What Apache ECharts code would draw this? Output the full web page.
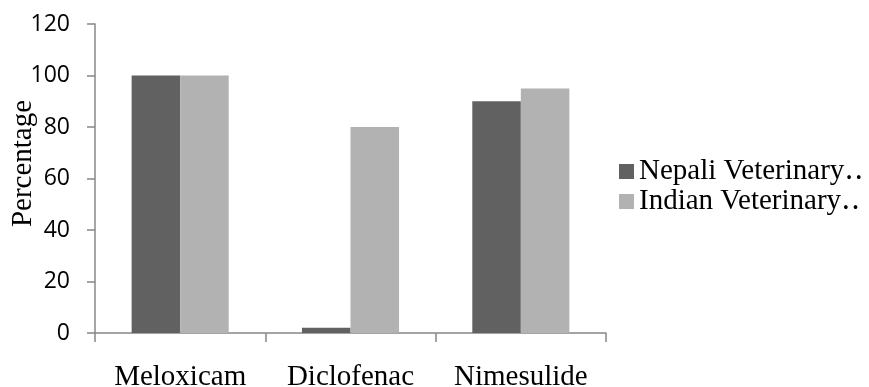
<!DOCTYPE html>
<html>
<head>
<meta charset="utf-8">
<script src="https://cdn.jsdelivr.net/npm/echarts@6/dist/echarts.min.js"></script>
<style>
html,body{margin:0;padding:0;background:#fff;}
#chart{width:869px;height:387px;}
</style>
</head>
<body>
<div id="chart"></div>
<script>
const categories = ['Meloxicam', 'Diclofenac', 'Nimesulide'];
const seriesNames = ['Nepali Veterinary\u2025', 'Indian Veterinary\u2025'];
const nepaliValues = [100, 2, 90];
const indianValues = [100, 80, 95];
const yTicks = { min: 0, max: 120, interval: 20 };

const chart = echarts.init(document.getElementById('chart'), null, { renderer: 'canvas' });
const axisColor = '#878787';
const serif = '"Liberation Serif", "DejaVu Serif", serif';
chart.setOption({
  animation: false,
  backgroundColor: '#ffffff',
  grid: { left: 95, right: 263, top: 24, bottom: 54, containLabel: false, outerBoundsMode: 'none' },
  legend: {
    orient: 'vertical',
    left: 619,
    top: 157,
    padding: 0,
    itemWidth: 15,
    itemHeight: 15,
    itemGap: 1,
    icon: 'rect',
    textStyle: { fontFamily: serif, fontSize: 29, color: '#000', lineHeight: 29 },
    data: seriesNames
  },
  xAxis: {
    type: 'category',
    data: categories,
    axisLine: { lineStyle: { color: axisColor, width: 1.5 } },
    axisTick: { show: true, alignWithLabel: false, length: 9, lineStyle: { color: axisColor, width: 1.5 } },
    axisLabel: { fontFamily: serif, fontSize: 29, color: '#000', margin: 30, interval: 0, hideOverlap: false },
    splitLine: { show: false }
  },
  yAxis: {
    type: 'value',
    min: yTicks.min,
    max: yTicks.max,
    interval: yTicks.interval,
    name: 'Percentage',
    nameLocation: 'middle',
    nameGap: 57,
    nameRotate: 90,
    nameMoveOverlap: false,
    nameTextStyle: { fontFamily: serif, fontSize: 29, color: '#000', padding: [0, 0, 0, 30] },
    axisLine: { show: true, lineStyle: { color: axisColor, width: 1.5 } },
    axisTick: { show: true, length: 8, lineStyle: { color: axisColor, width: 1.5 } },
    axisLabel: { fontFamily: '"Open Sans", sans-serif', fontSize: 23, color: '#000', margin: 25 },
    splitLine: { show: false }
  },
  series: [
    {
      name: seriesNames[0],
      type: 'bar',
      data: nepaliValues,
      barGap: '0%',
      barCategoryGap: '43%',
      itemStyle: { color: '#616161' }
    },
    {
      name: seriesNames[1],
      type: 'bar',
      data: indianValues,
      barGap: '0%',
      barCategoryGap: '43%',
      itemStyle: { color: '#b2b2b2' }
    }
  ]
});
</script>
</body>
</html>
